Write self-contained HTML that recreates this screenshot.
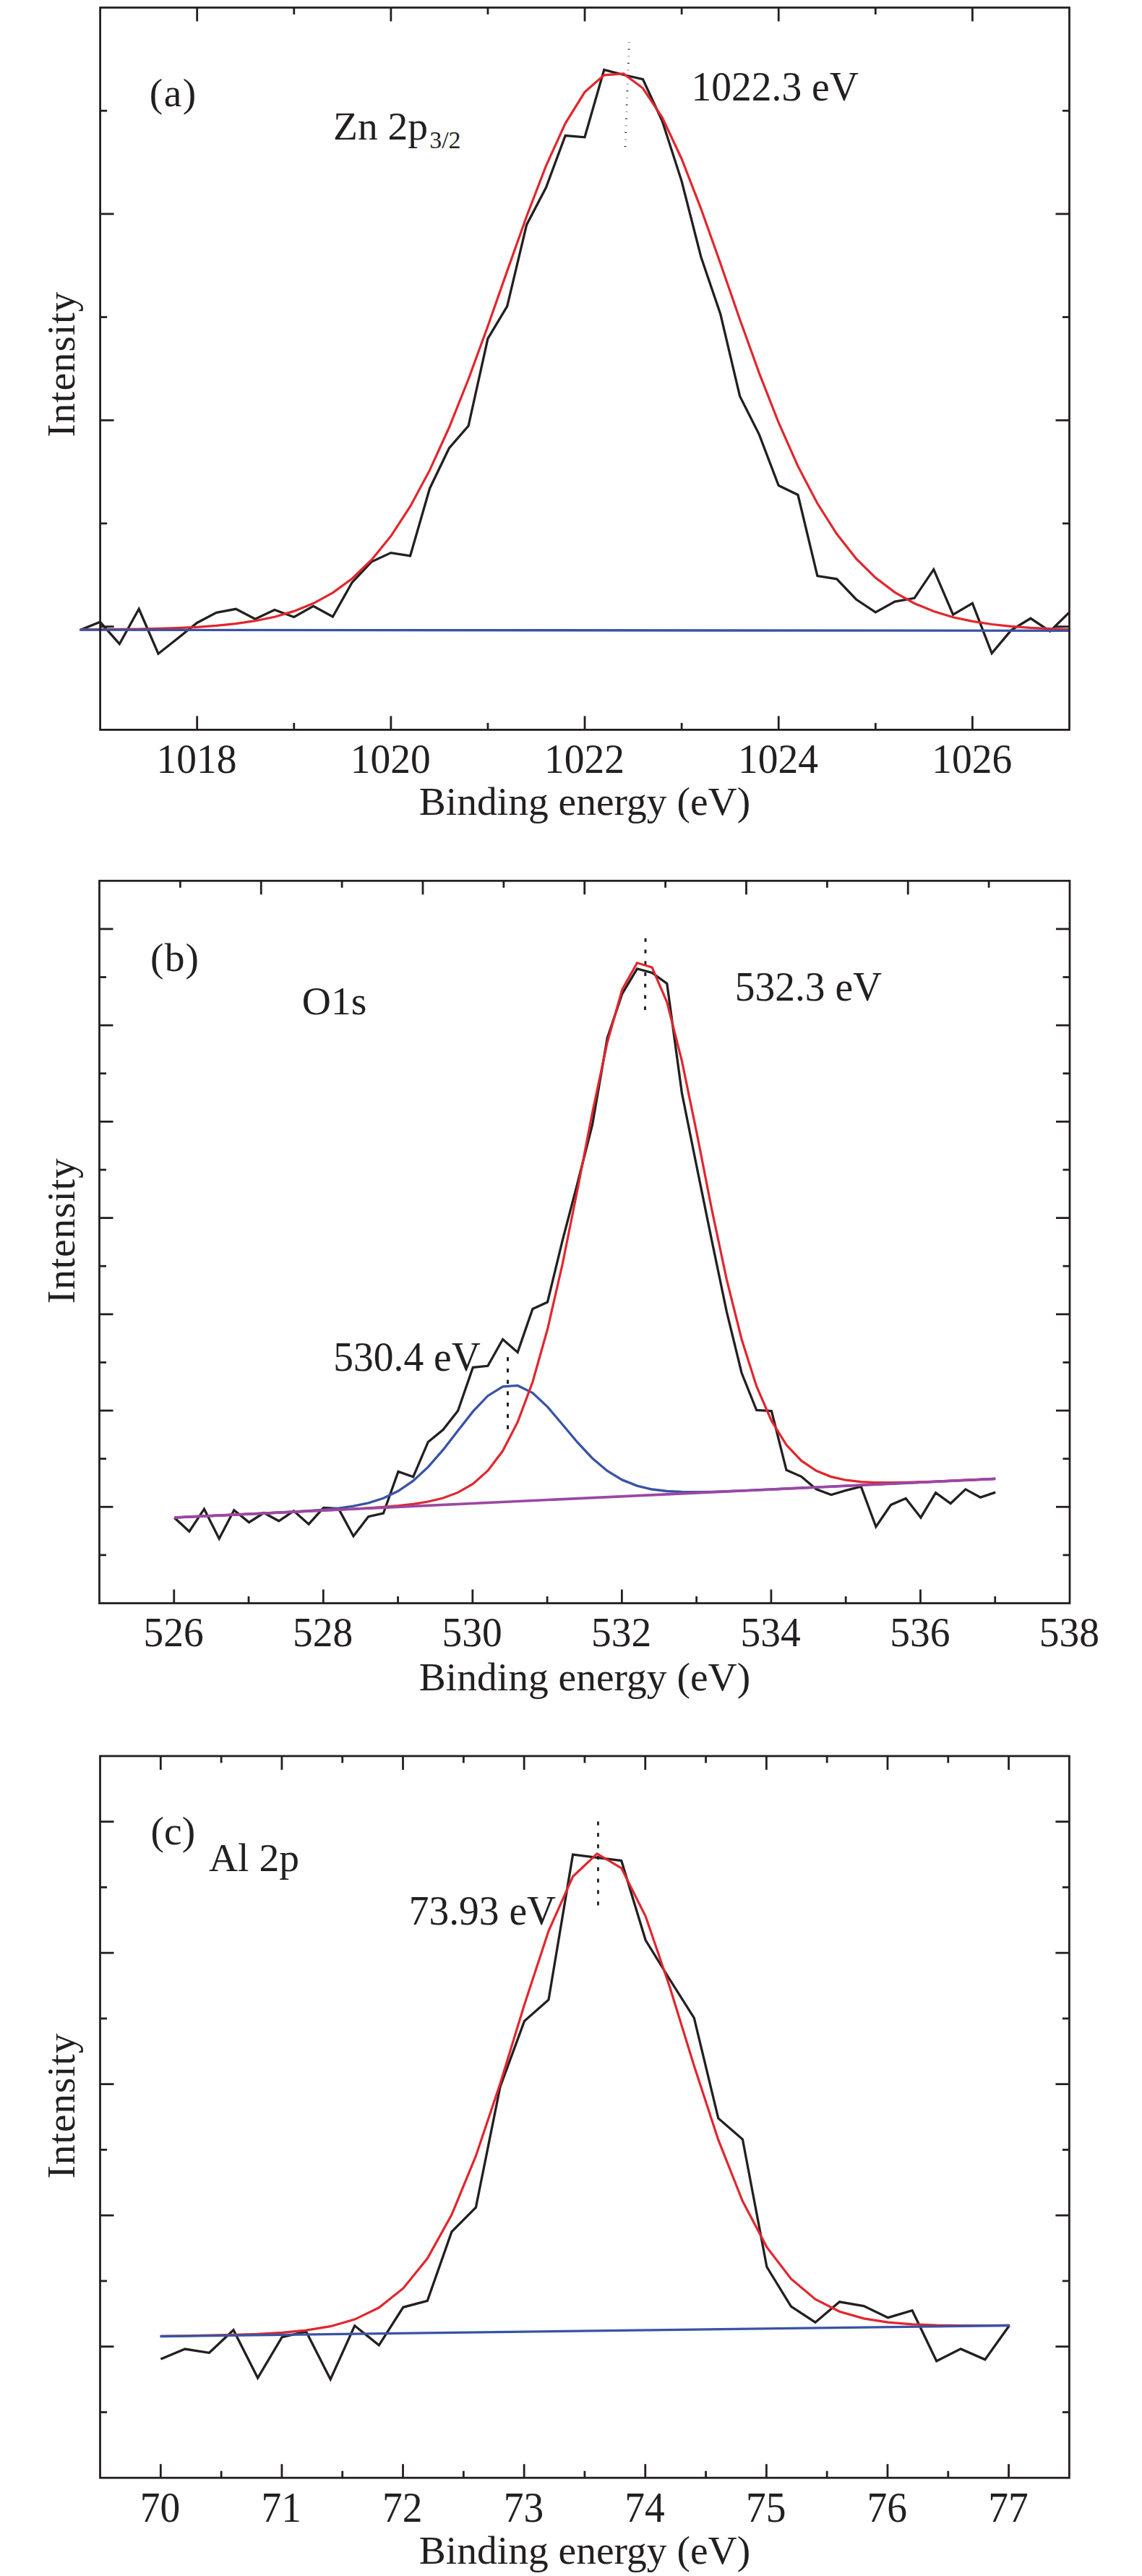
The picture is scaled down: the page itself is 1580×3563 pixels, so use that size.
<!DOCTYPE html>
<html><head><meta charset="utf-8"><style>
html,body{margin:0;padding:0;background:#fff;}
svg{display:block;}
text{font-family:"Liberation Serif", serif;fill:#231f20;}
</style></head><body>
<svg width="1580" height="3563" viewBox="0 0 1580 3563">
<rect width="1580" height="3563" fill="#fff"/>
<rect x="869.00" y="58.00" width="3" height="1.2" fill="#9a9a9a"/>
<rect x="868.63" y="67.60" width="3" height="1.2" fill="#2a2a2a"/>
<rect x="868.27" y="77.20" width="3" height="1.2" fill="#9a9a9a"/>
<rect x="867.90" y="86.80" width="3" height="1.2" fill="#2a2a2a"/>
<rect x="867.53" y="96.40" width="3" height="1.2" fill="#9a9a9a"/>
<rect x="867.17" y="106.00" width="3" height="1.2" fill="#2a2a2a"/>
<rect x="866.80" y="115.60" width="3" height="1.2" fill="#9a9a9a"/>
<rect x="866.43" y="125.20" width="3" height="1.2" fill="#2a2a2a"/>
<rect x="866.07" y="134.80" width="3" height="1.2" fill="#9a9a9a"/>
<rect x="865.70" y="144.40" width="3" height="1.2" fill="#2a2a2a"/>
<rect x="865.33" y="154.00" width="3" height="1.2" fill="#9a9a9a"/>
<rect x="864.97" y="163.60" width="3" height="1.2" fill="#2a2a2a"/>
<rect x="864.60" y="173.20" width="3" height="1.2" fill="#9a9a9a"/>
<rect x="864.23" y="182.80" width="3" height="1.2" fill="#2a2a2a"/>
<rect x="863.87" y="192.40" width="3" height="1.2" fill="#9a9a9a"/>
<rect x="863.50" y="202.00" width="3" height="1.2" fill="#2a2a2a"/>
<polyline points="111.7,871.1 138.5,860.3 165.3,890.7 192.2,842.3 219.0,904.2 245.8,883.0 272.6,861.5 299.4,847.3 326.3,842.3 353.1,856.2 379.9,843.5 406.7,853.5 433.5,838.3 460.4,853.0 487.2,805.5 514.0,777.0 540.8,764.6 567.6,768.8 594.5,675.7 621.3,620.0 648.1,589.0 674.9,468.4 701.7,423.7 728.6,310.9 755.4,259.6 782.2,187.5 809.0,189.8 835.8,96.6 862.7,103.5 889.5,109.7 916.3,167.5 943.1,250.6 969.9,355.5 996.8,434.5 1023.6,548.0 1050.4,601.1 1077.2,671.6 1104.0,684.5 1130.9,796.6 1157.7,800.9 1184.5,829.0 1211.3,846.9 1238.1,832.0 1265.0,827.3 1291.8,787.7 1318.6,850.2 1345.4,834.4 1372.2,903.5 1399.1,871.6 1425.9,855.3 1452.7,873.1 1479.5,846.9" fill="none" stroke="#231f20" stroke-width="3.3" stroke-linejoin="miter" stroke-miterlimit="10" />
<polyline points="111.7,870.8 138.5,870.7 165.3,870.4 192.2,870.0 219.0,869.4 245.8,868.6 272.6,867.3 299.4,865.4 326.3,862.7 353.1,858.7 379.9,853.2 406.7,845.4 433.5,834.6 460.4,819.9 487.2,800.2 514.0,774.5 540.8,741.6 567.6,700.4 594.5,650.4 621.3,591.5 648.1,524.5 674.9,451.3 701.7,374.9 728.6,299.3 755.4,229.5 782.2,170.6 809.0,127.4 835.8,103.8 862.7,101.9 889.5,122.0 916.3,162.6 943.1,219.7 969.9,288.8 996.8,364.5 1023.6,441.7 1050.4,516.1 1077.2,584.5 1104.0,644.9 1130.9,696.3 1157.7,738.6 1184.5,772.6 1211.3,799.1 1238.1,819.3 1265.0,834.5 1291.8,845.6 1318.6,853.7 1345.4,859.4 1372.2,863.5 1399.1,866.3 1425.9,868.3 1452.7,869.6 1479.5,870.5" fill="none" stroke="#e1262d" stroke-width="3.2" stroke-linejoin="miter" stroke-miterlimit="10" />
<line x1="110.00" y1="871.20" x2="1480.00" y2="872.40" stroke="#3953a4" stroke-width="3.3" />
<line x1="272.69" y1="1009.40" x2="272.69" y2="990.40" stroke="#231f20" stroke-width="2.8" />
<line x1="406.78" y1="1009.40" x2="406.78" y2="999.90" stroke="#231f20" stroke-width="2.8" />
<line x1="540.87" y1="1009.40" x2="540.87" y2="990.40" stroke="#231f20" stroke-width="2.8" />
<line x1="674.96" y1="1009.40" x2="674.96" y2="999.90" stroke="#231f20" stroke-width="2.8" />
<line x1="809.05" y1="1009.40" x2="809.05" y2="990.40" stroke="#231f20" stroke-width="2.8" />
<line x1="943.14" y1="1009.40" x2="943.14" y2="999.90" stroke="#231f20" stroke-width="2.8" />
<line x1="1077.23" y1="1009.40" x2="1077.23" y2="990.40" stroke="#231f20" stroke-width="2.8" />
<line x1="1211.32" y1="1009.40" x2="1211.32" y2="999.90" stroke="#231f20" stroke-width="2.8" />
<line x1="1345.41" y1="1009.40" x2="1345.41" y2="990.40" stroke="#231f20" stroke-width="2.8" />
<line x1="272.69" y1="10.50" x2="272.69" y2="29.50" stroke="#231f20" stroke-width="2.8" />
<line x1="406.78" y1="10.50" x2="406.78" y2="20.00" stroke="#231f20" stroke-width="2.8" />
<line x1="540.87" y1="10.50" x2="540.87" y2="29.50" stroke="#231f20" stroke-width="2.8" />
<line x1="674.96" y1="10.50" x2="674.96" y2="20.00" stroke="#231f20" stroke-width="2.8" />
<line x1="809.05" y1="10.50" x2="809.05" y2="29.50" stroke="#231f20" stroke-width="2.8" />
<line x1="943.14" y1="10.50" x2="943.14" y2="20.00" stroke="#231f20" stroke-width="2.8" />
<line x1="1077.23" y1="10.50" x2="1077.23" y2="29.50" stroke="#231f20" stroke-width="2.8" />
<line x1="1211.32" y1="10.50" x2="1211.32" y2="20.00" stroke="#231f20" stroke-width="2.8" />
<line x1="1345.41" y1="10.50" x2="1345.41" y2="29.50" stroke="#231f20" stroke-width="2.8" />
<line x1="138.60" y1="153.20" x2="148.10" y2="153.20" stroke="#231f20" stroke-width="2.8" />
<line x1="1479.50" y1="153.20" x2="1470.00" y2="153.20" stroke="#231f20" stroke-width="2.8" />
<line x1="138.60" y1="295.90" x2="157.60" y2="295.90" stroke="#231f20" stroke-width="2.8" />
<line x1="1479.50" y1="295.90" x2="1460.50" y2="295.90" stroke="#231f20" stroke-width="2.8" />
<line x1="138.60" y1="438.60" x2="148.10" y2="438.60" stroke="#231f20" stroke-width="2.8" />
<line x1="1479.50" y1="438.60" x2="1470.00" y2="438.60" stroke="#231f20" stroke-width="2.8" />
<line x1="138.60" y1="581.30" x2="157.60" y2="581.30" stroke="#231f20" stroke-width="2.8" />
<line x1="1479.50" y1="581.30" x2="1460.50" y2="581.30" stroke="#231f20" stroke-width="2.8" />
<line x1="138.60" y1="724.00" x2="148.10" y2="724.00" stroke="#231f20" stroke-width="2.8" />
<line x1="1479.50" y1="724.00" x2="1470.00" y2="724.00" stroke="#231f20" stroke-width="2.8" />
<line x1="138.60" y1="866.70" x2="157.60" y2="866.70" stroke="#231f20" stroke-width="2.8" />
<line x1="1479.50" y1="866.70" x2="1460.50" y2="866.70" stroke="#231f20" stroke-width="2.8" />
<rect x="138.6" y="10.5" width="1340.90" height="998.90" fill="none" stroke="#231f20" stroke-width="2.8" stroke-linejoin="miter"/>
<text x="956.6" y="139.0" font-size="55.5" text-anchor="start"  transform="matrix(1,0,0,1.04,0,-5.560)">1022.3 eV</text>
<text x="206.8" y="147.4" font-size="55.5" text-anchor="start" textLength="64.5">(a)</text>
<text x="461.1" y="192.7" font-size="55.5">Zn 2p<tspan font-size="34" dx="2" dy="11.8">3/2</tspan></text>
<text x="272.0" y="1069.0" font-size="55.5" text-anchor="middle"  transform="matrix(1,0,0,1.045,0,-48.105)">1018</text>
<text x="540.2" y="1069.0" font-size="55.5" text-anchor="middle"  transform="matrix(1,0,0,1.045,0,-48.105)">1020</text>
<text x="808.4" y="1069.0" font-size="55.5" text-anchor="middle"  transform="matrix(1,0,0,1.045,0,-48.105)">1022</text>
<text x="1076.5" y="1069.0" font-size="55.5" text-anchor="middle"  transform="matrix(1,0,0,1.045,0,-48.105)">1024</text>
<text x="1344.7" y="1069.0" font-size="55.5" text-anchor="middle"  transform="matrix(1,0,0,1.045,0,-48.105)">1026</text>
<text x="809.0" y="1126.8" font-size="55.5" text-anchor="middle" >Binding energy (eV)</text>
<text x="0.0" y="0.0" font-size="55.5" text-anchor="middle" textLength="201" lengthAdjust="spacing" transform="translate(102.9,504.3) rotate(-90)">Intensity</text>
<line x1="702.50" y1="1877.20" x2="702.50" y2="1882.60" stroke="#231f20" stroke-width="3" />
<line x1="702.50" y1="1892.90" x2="702.50" y2="1898.30" stroke="#231f20" stroke-width="3" />
<line x1="702.50" y1="1908.60" x2="702.50" y2="1914.00" stroke="#231f20" stroke-width="3" />
<line x1="702.50" y1="1924.30" x2="702.50" y2="1929.70" stroke="#231f20" stroke-width="3" />
<line x1="702.50" y1="1940.00" x2="702.50" y2="1945.40" stroke="#231f20" stroke-width="3" />
<line x1="702.50" y1="1955.70" x2="702.50" y2="1961.10" stroke="#231f20" stroke-width="3" />
<line x1="702.50" y1="1971.40" x2="702.50" y2="1976.80" stroke="#231f20" stroke-width="3" />
<line x1="893.10" y1="1297.80" x2="893.07" y2="1302.80" stroke="#231f20" stroke-width="3" />
<line x1="893.01" y1="1313.52" x2="892.97" y2="1318.52" stroke="#231f20" stroke-width="3" />
<line x1="892.91" y1="1329.23" x2="892.88" y2="1334.23" stroke="#231f20" stroke-width="3" />
<line x1="892.82" y1="1344.95" x2="892.78" y2="1349.95" stroke="#231f20" stroke-width="3" />
<line x1="892.72" y1="1360.67" x2="892.69" y2="1365.67" stroke="#231f20" stroke-width="3" />
<line x1="892.63" y1="1376.38" x2="892.59" y2="1381.38" stroke="#231f20" stroke-width="3" />
<line x1="892.53" y1="1392.10" x2="892.50" y2="1397.10" stroke="#231f20" stroke-width="3" />
<polyline points="241.2,2099.3 261.9,2118.2 282.5,2087.2 303.2,2128.2 323.8,2088.8 344.5,2105.6 365.1,2092.5 385.8,2103.8 406.4,2089.8 427.1,2108.2 447.7,2085.4 468.4,2086.7 489.0,2124.8 509.7,2097.7 530.4,2093.2 551.0,2035.4 571.7,2042.7 592.3,1994.4 613.0,1977.6 633.6,1951.3 654.3,1891.4 674.9,1889.3 695.6,1852.5 716.2,1870.4 736.9,1810.5 757.5,1801.0 778.2,1715.8 798.9,1637.0 819.5,1556.0 840.2,1436.0 860.8,1374.6 881.5,1339.9 902.1,1345.4 922.8,1360.4 943.4,1511.7 964.1,1614.5 984.7,1715.4 1005.4,1814.3 1026.1,1899.0 1046.7,1950.5 1067.4,1951.5 1088.0,2033.3 1108.7,2042.3 1129.3,2059.7 1150.0,2067.5 1170.6,2061.3 1191.3,2056.2 1211.9,2111.7 1232.6,2081.4 1253.2,2072.5 1273.9,2099.1 1294.6,2064.6 1315.2,2079.5 1335.9,2059.9 1356.5,2071.1 1377.2,2064.1" fill="none" stroke="#231f20" stroke-width="3.3" stroke-linejoin="miter" stroke-miterlimit="10" />
<polyline points="241.2,2099.0 261.9,2098.0 282.5,2097.0 303.2,2096.1 323.8,2095.1 344.5,2094.1 365.1,2093.1 385.8,2092.0 406.4,2090.9 427.1,2089.6 447.7,2088.1 468.4,2086.1 489.0,2083.1 509.7,2078.8 530.4,2072.2 551.0,2062.3 571.7,2048.1 592.3,2029.1 613.0,2005.4 633.6,1978.7 654.3,1952.4 674.9,1930.7 695.6,1917.8 716.2,1916.4 736.9,1926.6 757.5,1945.9 778.2,1970.2 798.9,1995.0 819.5,2017.0 840.2,2034.4 860.8,2046.9 881.5,2055.1 902.1,2060.0 922.8,2062.5 943.4,2063.5 964.1,2063.7 984.7,2063.3 1005.4,2062.6 1026.1,2061.8 1046.7,2060.9 1067.4,2060.0 1088.0,2059.0 1108.7,2058.0 1129.3,2057.1 1150.0,2056.1 1170.6,2055.1 1191.3,2054.2 1211.9,2053.2 1232.6,2052.2 1253.2,2051.2 1273.9,2050.3 1294.6,2049.3 1315.2,2048.3 1335.9,2047.3 1356.5,2046.4 1377.2,2045.4" fill="none" stroke="#3953a4" stroke-width="3.3" stroke-linejoin="miter" stroke-miterlimit="10" />
<polyline points="241.2,2099.0 261.9,2098.0 282.5,2097.0 303.2,2096.1 323.8,2095.1 344.5,2094.1 365.1,2093.1 385.8,2092.2 406.4,2091.2 427.1,2090.2 447.7,2089.2 468.4,2088.1 489.0,2087.0 509.7,2085.8 530.4,2084.4 551.0,2082.6 571.7,2080.3 592.3,2077.0 613.0,2072.0 633.6,2064.4 654.3,2052.5 674.9,2034.2 695.6,2006.8 716.2,1966.9 736.9,1911.5 757.5,1838.5 778.2,1748.5 798.9,1645.7 819.5,1539.2 840.2,1442.0 860.8,1368.7 881.5,1331.8 902.1,1338.0 922.8,1386.2 943.4,1467.4 964.1,1567.6 984.7,1672.4 1005.4,1769.9 1026.1,1852.5 1046.7,1917.4 1067.4,1965.2 1088.0,1998.5 1108.7,2020.4 1129.3,2034.3 1150.0,2042.6 1170.6,2047.2 1191.3,2049.6 1211.9,2050.6 1232.6,2050.7 1253.2,2050.4 1273.9,2049.8 1294.6,2049.0 1315.2,2048.2 1335.9,2047.2 1356.5,2046.3 1377.2,2045.4" fill="none" stroke="#e1262d" stroke-width="3.2" stroke-linejoin="miter" stroke-miterlimit="10" />
<line x1="241.20" y1="2099.00" x2="1377.17" y2="2045.38" stroke="#9c47a3" stroke-width="3.6" />
<line x1="240.77" y1="2217.50" x2="240.77" y2="2198.50" stroke="#231f20" stroke-width="2.8" />
<line x1="344.04" y1="2217.50" x2="344.04" y2="2208.00" stroke="#231f20" stroke-width="2.8" />
<line x1="447.31" y1="2217.50" x2="447.31" y2="2198.50" stroke="#231f20" stroke-width="2.8" />
<line x1="550.58" y1="2217.50" x2="550.58" y2="2208.00" stroke="#231f20" stroke-width="2.8" />
<line x1="653.85" y1="2217.50" x2="653.85" y2="2198.50" stroke="#231f20" stroke-width="2.8" />
<line x1="757.12" y1="2217.50" x2="757.12" y2="2208.00" stroke="#231f20" stroke-width="2.8" />
<line x1="860.38" y1="2217.50" x2="860.38" y2="2198.50" stroke="#231f20" stroke-width="2.8" />
<line x1="963.65" y1="2217.50" x2="963.65" y2="2208.00" stroke="#231f20" stroke-width="2.8" />
<line x1="1066.92" y1="2217.50" x2="1066.92" y2="2198.50" stroke="#231f20" stroke-width="2.8" />
<line x1="1170.19" y1="2217.50" x2="1170.19" y2="2208.00" stroke="#231f20" stroke-width="2.8" />
<line x1="1273.46" y1="2217.50" x2="1273.46" y2="2198.50" stroke="#231f20" stroke-width="2.8" />
<line x1="1376.73" y1="2217.50" x2="1376.73" y2="2208.00" stroke="#231f20" stroke-width="2.8" />
<line x1="249.38" y1="1218.30" x2="249.38" y2="1227.80" stroke="#231f20" stroke-width="2.8" />
<line x1="361.25" y1="1218.30" x2="361.25" y2="1237.30" stroke="#231f20" stroke-width="2.8" />
<line x1="473.12" y1="1218.30" x2="473.12" y2="1227.80" stroke="#231f20" stroke-width="2.8" />
<line x1="585.00" y1="1218.30" x2="585.00" y2="1237.30" stroke="#231f20" stroke-width="2.8" />
<line x1="696.88" y1="1218.30" x2="696.88" y2="1227.80" stroke="#231f20" stroke-width="2.8" />
<line x1="808.75" y1="1218.30" x2="808.75" y2="1237.30" stroke="#231f20" stroke-width="2.8" />
<line x1="920.62" y1="1218.30" x2="920.62" y2="1227.80" stroke="#231f20" stroke-width="2.8" />
<line x1="1032.50" y1="1218.30" x2="1032.50" y2="1237.30" stroke="#231f20" stroke-width="2.8" />
<line x1="1144.38" y1="1218.30" x2="1144.38" y2="1227.80" stroke="#231f20" stroke-width="2.8" />
<line x1="1256.25" y1="1218.30" x2="1256.25" y2="1237.30" stroke="#231f20" stroke-width="2.8" />
<line x1="1368.12" y1="1218.30" x2="1368.12" y2="1227.80" stroke="#231f20" stroke-width="2.8" />
<line x1="137.50" y1="1284.91" x2="156.50" y2="1284.91" stroke="#231f20" stroke-width="2.8" />
<line x1="1480.00" y1="1284.91" x2="1461.00" y2="1284.91" stroke="#231f20" stroke-width="2.8" />
<line x1="137.50" y1="1351.53" x2="147.00" y2="1351.53" stroke="#231f20" stroke-width="2.8" />
<line x1="1480.00" y1="1351.53" x2="1470.50" y2="1351.53" stroke="#231f20" stroke-width="2.8" />
<line x1="137.50" y1="1418.14" x2="156.50" y2="1418.14" stroke="#231f20" stroke-width="2.8" />
<line x1="1480.00" y1="1418.14" x2="1461.00" y2="1418.14" stroke="#231f20" stroke-width="2.8" />
<line x1="137.50" y1="1484.75" x2="147.00" y2="1484.75" stroke="#231f20" stroke-width="2.8" />
<line x1="1480.00" y1="1484.75" x2="1470.50" y2="1484.75" stroke="#231f20" stroke-width="2.8" />
<line x1="137.50" y1="1551.37" x2="156.50" y2="1551.37" stroke="#231f20" stroke-width="2.8" />
<line x1="1480.00" y1="1551.37" x2="1461.00" y2="1551.37" stroke="#231f20" stroke-width="2.8" />
<line x1="137.50" y1="1617.98" x2="147.00" y2="1617.98" stroke="#231f20" stroke-width="2.8" />
<line x1="1480.00" y1="1617.98" x2="1470.50" y2="1617.98" stroke="#231f20" stroke-width="2.8" />
<line x1="137.50" y1="1684.59" x2="156.50" y2="1684.59" stroke="#231f20" stroke-width="2.8" />
<line x1="1480.00" y1="1684.59" x2="1461.00" y2="1684.59" stroke="#231f20" stroke-width="2.8" />
<line x1="137.50" y1="1751.21" x2="147.00" y2="1751.21" stroke="#231f20" stroke-width="2.8" />
<line x1="1480.00" y1="1751.21" x2="1470.50" y2="1751.21" stroke="#231f20" stroke-width="2.8" />
<line x1="137.50" y1="1817.82" x2="156.50" y2="1817.82" stroke="#231f20" stroke-width="2.8" />
<line x1="1480.00" y1="1817.82" x2="1461.00" y2="1817.82" stroke="#231f20" stroke-width="2.8" />
<line x1="137.50" y1="1884.43" x2="147.00" y2="1884.43" stroke="#231f20" stroke-width="2.8" />
<line x1="1480.00" y1="1884.43" x2="1470.50" y2="1884.43" stroke="#231f20" stroke-width="2.8" />
<line x1="137.50" y1="1951.05" x2="156.50" y2="1951.05" stroke="#231f20" stroke-width="2.8" />
<line x1="1480.00" y1="1951.05" x2="1461.00" y2="1951.05" stroke="#231f20" stroke-width="2.8" />
<line x1="137.50" y1="2017.66" x2="147.00" y2="2017.66" stroke="#231f20" stroke-width="2.8" />
<line x1="1480.00" y1="2017.66" x2="1470.50" y2="2017.66" stroke="#231f20" stroke-width="2.8" />
<line x1="137.50" y1="2084.27" x2="156.50" y2="2084.27" stroke="#231f20" stroke-width="2.8" />
<line x1="1480.00" y1="2084.27" x2="1461.00" y2="2084.27" stroke="#231f20" stroke-width="2.8" />
<line x1="137.50" y1="2150.89" x2="147.00" y2="2150.89" stroke="#231f20" stroke-width="2.8" />
<line x1="1480.00" y1="2150.89" x2="1470.50" y2="2150.89" stroke="#231f20" stroke-width="2.8" />
<rect x="137.5" y="1218.3" width="1342.50" height="999.20" fill="none" stroke="#231f20" stroke-width="2.8" stroke-linejoin="miter"/>
<text x="1016.7" y="1384.2" font-size="55.5" text-anchor="start"  transform="matrix(1,0,0,1.035,0,-48.447)">532.3 eV</text>
<text x="461.3" y="1896.5" font-size="55.5" text-anchor="start"  transform="matrix(1,0,0,1.035,0,-66.377)">530.4 eV</text>
<text x="208.1" y="1343.4" font-size="55.5" text-anchor="start" textLength="67">(b)</text>
<text x="417.8" y="1403.0" font-size="55.5" text-anchor="start" >O1s</text>
<text x="240.1" y="2277.2" font-size="55.5" text-anchor="middle"  transform="matrix(1,0,0,1.045,0,-102.474)">526</text>
<text x="446.6" y="2277.2" font-size="55.5" text-anchor="middle"  transform="matrix(1,0,0,1.045,0,-102.474)">528</text>
<text x="653.1" y="2277.2" font-size="55.5" text-anchor="middle"  transform="matrix(1,0,0,1.045,0,-102.474)">530</text>
<text x="859.7" y="2277.2" font-size="55.5" text-anchor="middle"  transform="matrix(1,0,0,1.045,0,-102.474)">532</text>
<text x="1066.2" y="2277.2" font-size="55.5" text-anchor="middle"  transform="matrix(1,0,0,1.045,0,-102.474)">534</text>
<text x="1272.8" y="2277.2" font-size="55.5" text-anchor="middle"  transform="matrix(1,0,0,1.045,0,-102.474)">536</text>
<text x="1479.3" y="2277.2" font-size="55.5" text-anchor="middle"  transform="matrix(1,0,0,1.045,0,-102.474)">538</text>
<text x="809.0" y="2337.8" font-size="55.5" text-anchor="middle" >Binding energy (eV)</text>
<text x="0.0" y="0.0" font-size="55.5" text-anchor="middle" textLength="201" lengthAdjust="spacing" transform="translate(102.9,1702.7) rotate(-90)">Intensity</text>
<line x1="827.50" y1="2519.40" x2="827.50" y2="2524.70" stroke="#231f20" stroke-width="2.8" />
<line x1="827.50" y1="2535.21" x2="827.50" y2="2540.51" stroke="#231f20" stroke-width="2.8" />
<line x1="827.50" y1="2551.03" x2="827.50" y2="2556.33" stroke="#231f20" stroke-width="2.8" />
<line x1="827.50" y1="2566.84" x2="827.50" y2="2572.14" stroke="#231f20" stroke-width="2.8" />
<line x1="827.50" y1="2582.66" x2="827.50" y2="2587.96" stroke="#231f20" stroke-width="2.8" />
<line x1="827.50" y1="2598.47" x2="827.50" y2="2603.77" stroke="#231f20" stroke-width="2.8" />
<line x1="827.50" y1="2614.29" x2="827.50" y2="2619.59" stroke="#231f20" stroke-width="2.8" />
<line x1="827.50" y1="2630.10" x2="827.50" y2="2635.40" stroke="#231f20" stroke-width="2.8" />
<polyline points="222.4,3263.1 255.9,3249.0 289.5,3254.3 323.0,3222.8 356.6,3289.0 390.1,3232.6 423.6,3224.9 457.2,3291.0 490.7,3216.8 524.3,3243.8 557.8,3191.3 591.3,3182.3 624.9,3086.9 658.4,3053.1 692.0,2886.5 725.5,2795.4 759.0,2765.9 792.6,2565.2 826.1,2569.4 859.7,2573.6 893.2,2683.5 926.7,2738.0 960.3,2791.2 993.8,2929.9 1027.4,2959.0 1060.9,3135.5 1094.4,3190.1 1128.0,3212.2 1161.5,3183.8 1195.1,3189.5 1228.6,3205.7 1262.1,3195.7 1295.7,3265.7 1329.2,3248.9 1362.8,3263.6 1396.3,3216.7" fill="none" stroke="#231f20" stroke-width="3.3" stroke-linejoin="miter" stroke-miterlimit="10" />
<polyline points="222.4,3231.4 255.9,3230.9 289.5,3230.2 323.0,3229.4 356.6,3228.3 390.1,3226.4 423.6,3223.2 457.2,3217.7 490.7,3208.1 524.3,3191.8 557.8,3165.2 591.3,3123.8 624.9,3063.4 658.4,2981.9 692.0,2882.0 725.5,2772.9 759.0,2670.8 792.6,2595.5 826.1,2563.9 859.7,2583.8 893.2,2650.6 926.7,2748.5 960.3,2857.3 993.8,2959.7 1027.4,3044.5 1060.9,3108.1 1094.4,3152.0 1128.0,3180.2 1161.5,3197.2 1195.1,3206.9 1228.6,3212.2 1262.1,3214.8 1295.7,3216.1 1329.2,3216.5 1362.8,3216.5 1396.3,3216.3" fill="none" stroke="#e1262d" stroke-width="3.2" stroke-linejoin="miter" stroke-miterlimit="10" />
<line x1="221.40" y1="3231.49" x2="1397.30" y2="3216.49" stroke="#3953a4" stroke-width="3.3" />
<line x1="222.31" y1="3427.20" x2="222.31" y2="3408.20" stroke="#231f20" stroke-width="2.8" />
<line x1="306.11" y1="3427.20" x2="306.11" y2="3417.70" stroke="#231f20" stroke-width="2.8" />
<line x1="389.92" y1="3427.20" x2="389.92" y2="3408.20" stroke="#231f20" stroke-width="2.8" />
<line x1="473.73" y1="3427.20" x2="473.73" y2="3417.70" stroke="#231f20" stroke-width="2.8" />
<line x1="557.53" y1="3427.20" x2="557.53" y2="3408.20" stroke="#231f20" stroke-width="2.8" />
<line x1="641.34" y1="3427.20" x2="641.34" y2="3417.70" stroke="#231f20" stroke-width="2.8" />
<line x1="725.14" y1="3427.20" x2="725.14" y2="3408.20" stroke="#231f20" stroke-width="2.8" />
<line x1="808.95" y1="3427.20" x2="808.95" y2="3417.70" stroke="#231f20" stroke-width="2.8" />
<line x1="892.76" y1="3427.20" x2="892.76" y2="3408.20" stroke="#231f20" stroke-width="2.8" />
<line x1="976.56" y1="3427.20" x2="976.56" y2="3417.70" stroke="#231f20" stroke-width="2.8" />
<line x1="1060.37" y1="3427.20" x2="1060.37" y2="3408.20" stroke="#231f20" stroke-width="2.8" />
<line x1="1144.18" y1="3427.20" x2="1144.18" y2="3417.70" stroke="#231f20" stroke-width="2.8" />
<line x1="1227.98" y1="3427.20" x2="1227.98" y2="3408.20" stroke="#231f20" stroke-width="2.8" />
<line x1="1311.79" y1="3427.20" x2="1311.79" y2="3417.70" stroke="#231f20" stroke-width="2.8" />
<line x1="1395.59" y1="3427.20" x2="1395.59" y2="3408.20" stroke="#231f20" stroke-width="2.8" />
<line x1="222.31" y1="2428.90" x2="222.31" y2="2447.90" stroke="#231f20" stroke-width="2.8" />
<line x1="306.11" y1="2428.90" x2="306.11" y2="2438.40" stroke="#231f20" stroke-width="2.8" />
<line x1="389.92" y1="2428.90" x2="389.92" y2="2447.90" stroke="#231f20" stroke-width="2.8" />
<line x1="473.73" y1="2428.90" x2="473.73" y2="2438.40" stroke="#231f20" stroke-width="2.8" />
<line x1="557.53" y1="2428.90" x2="557.53" y2="2447.90" stroke="#231f20" stroke-width="2.8" />
<line x1="641.34" y1="2428.90" x2="641.34" y2="2438.40" stroke="#231f20" stroke-width="2.8" />
<line x1="725.14" y1="2428.90" x2="725.14" y2="2447.90" stroke="#231f20" stroke-width="2.8" />
<line x1="808.95" y1="2428.90" x2="808.95" y2="2438.40" stroke="#231f20" stroke-width="2.8" />
<line x1="892.76" y1="2428.90" x2="892.76" y2="2447.90" stroke="#231f20" stroke-width="2.8" />
<line x1="976.56" y1="2428.90" x2="976.56" y2="2438.40" stroke="#231f20" stroke-width="2.8" />
<line x1="1060.37" y1="2428.90" x2="1060.37" y2="2447.90" stroke="#231f20" stroke-width="2.8" />
<line x1="1144.18" y1="2428.90" x2="1144.18" y2="2438.40" stroke="#231f20" stroke-width="2.8" />
<line x1="1227.98" y1="2428.90" x2="1227.98" y2="2447.90" stroke="#231f20" stroke-width="2.8" />
<line x1="1311.79" y1="2428.90" x2="1311.79" y2="2438.40" stroke="#231f20" stroke-width="2.8" />
<line x1="1395.59" y1="2428.90" x2="1395.59" y2="2447.90" stroke="#231f20" stroke-width="2.8" />
<line x1="138.50" y1="2519.65" x2="157.50" y2="2519.65" stroke="#231f20" stroke-width="2.8" />
<line x1="1479.40" y1="2519.65" x2="1460.40" y2="2519.65" stroke="#231f20" stroke-width="2.8" />
<line x1="138.50" y1="2610.41" x2="148.00" y2="2610.41" stroke="#231f20" stroke-width="2.8" />
<line x1="1479.40" y1="2610.41" x2="1469.90" y2="2610.41" stroke="#231f20" stroke-width="2.8" />
<line x1="138.50" y1="2701.16" x2="157.50" y2="2701.16" stroke="#231f20" stroke-width="2.8" />
<line x1="1479.40" y1="2701.16" x2="1460.40" y2="2701.16" stroke="#231f20" stroke-width="2.8" />
<line x1="138.50" y1="2791.92" x2="148.00" y2="2791.92" stroke="#231f20" stroke-width="2.8" />
<line x1="1479.40" y1="2791.92" x2="1469.90" y2="2791.92" stroke="#231f20" stroke-width="2.8" />
<line x1="138.50" y1="2882.67" x2="157.50" y2="2882.67" stroke="#231f20" stroke-width="2.8" />
<line x1="1479.40" y1="2882.67" x2="1460.40" y2="2882.67" stroke="#231f20" stroke-width="2.8" />
<line x1="138.50" y1="2973.43" x2="148.00" y2="2973.43" stroke="#231f20" stroke-width="2.8" />
<line x1="1479.40" y1="2973.43" x2="1469.90" y2="2973.43" stroke="#231f20" stroke-width="2.8" />
<line x1="138.50" y1="3064.18" x2="157.50" y2="3064.18" stroke="#231f20" stroke-width="2.8" />
<line x1="1479.40" y1="3064.18" x2="1460.40" y2="3064.18" stroke="#231f20" stroke-width="2.8" />
<line x1="138.50" y1="3154.94" x2="148.00" y2="3154.94" stroke="#231f20" stroke-width="2.8" />
<line x1="1479.40" y1="3154.94" x2="1469.90" y2="3154.94" stroke="#231f20" stroke-width="2.8" />
<line x1="138.50" y1="3245.69" x2="157.50" y2="3245.69" stroke="#231f20" stroke-width="2.8" />
<line x1="1479.40" y1="3245.69" x2="1460.40" y2="3245.69" stroke="#231f20" stroke-width="2.8" />
<line x1="138.50" y1="3336.45" x2="148.00" y2="3336.45" stroke="#231f20" stroke-width="2.8" />
<line x1="1479.40" y1="3336.45" x2="1469.90" y2="3336.45" stroke="#231f20" stroke-width="2.8" />
<rect x="138.5" y="2428.9" width="1340.90" height="998.30" fill="none" stroke="#231f20" stroke-width="2.8" stroke-linejoin="miter"/>
<text x="565.7" y="2662.4" font-size="55.5" text-anchor="start"  transform="matrix(1,0,0,1.035,0,-93.184)">73.93 eV</text>
<text x="208.6" y="2550.5" font-size="55.5" text-anchor="start" >(c)</text>
<text x="289.0" y="2587.6" font-size="55.5" text-anchor="start" >Al 2p</text>
<text x="221.6" y="3487.6" font-size="55.5" text-anchor="middle"  transform="matrix(1,0,0,1.05,0,-174.380)">70</text>
<text x="389.2" y="3487.6" font-size="55.5" text-anchor="middle"  transform="matrix(1,0,0,1.05,0,-174.380)">71</text>
<text x="556.8" y="3487.6" font-size="55.5" text-anchor="middle"  transform="matrix(1,0,0,1.05,0,-174.380)">72</text>
<text x="724.4" y="3487.6" font-size="55.5" text-anchor="middle"  transform="matrix(1,0,0,1.05,0,-174.380)">73</text>
<text x="892.1" y="3487.6" font-size="55.5" text-anchor="middle"  transform="matrix(1,0,0,1.05,0,-174.380)">74</text>
<text x="1059.7" y="3487.6" font-size="55.5" text-anchor="middle"  transform="matrix(1,0,0,1.05,0,-174.380)">75</text>
<text x="1227.3" y="3487.6" font-size="55.5" text-anchor="middle"  transform="matrix(1,0,0,1.05,0,-174.380)">76</text>
<text x="1394.9" y="3487.6" font-size="55.5" text-anchor="middle"  transform="matrix(1,0,0,1.05,0,-174.380)">77</text>
<text x="809.0" y="3545.7" font-size="55.5" text-anchor="middle" >Binding energy (eV)</text>
<text x="0.0" y="0.0" font-size="55.5" text-anchor="middle" textLength="201" lengthAdjust="spacing" transform="translate(102.9,2913) rotate(-90)">Intensity</text>
</svg></body></html>
